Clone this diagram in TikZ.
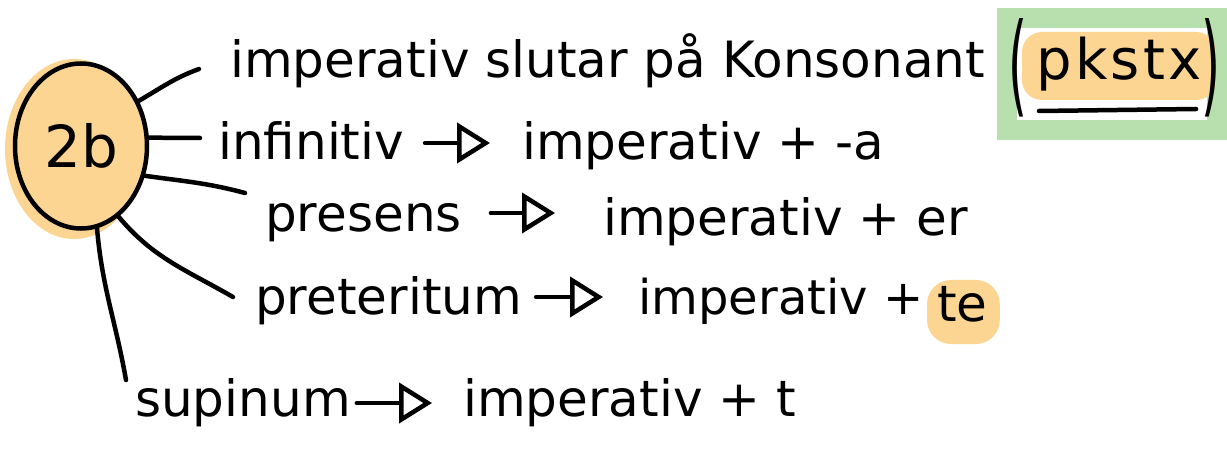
\documentclass[tikz,border=0pt]{standalone}
\usepackage{fontspec}
\setmainfont{DejaVu Sans}
\usetikzlibrary{arrows.meta,shapes.geometric,calc}
\definecolor{hlorange}{HTML}{FCD592}
\definecolor{hlgreen}{HTML}{B8E0AE}
\pgfdeclarelayer{bg}
\pgfsetlayers{bg,main}
\begin{document}
\begin{tikzpicture}[x=1pt,y=-1pt,
  conn/.style={line width=4.5pt, line cap=round},
  txt/.style={font=\fontsize{50}{56}\selectfont, anchor=base west, inner sep=0pt},
  paren/.style={font=\fontsize{54}{60}\selectfont, anchor=base west, inner sep=0pt},
  arr/.style={line width=4.5pt, line cap=round, -{Triangle[open,length=33pt,width=40pt,line width=4.5pt]}}]
\useasboundingbox (0,0) rectangle (1227,457);
% orange blob behind hub
\fill[hlorange] (74,149) ellipse [x radius=69, y radius=90];
\node[ellipse, draw, line width=4.5pt, fill=hlorange, minimum width=132pt, minimum height=165pt, inner sep=0pt,
      font=\fontsize{58}{62}\selectfont] (hub) at (81,146) {2b};
% line 1
\node[txt] (t1) at (230,78) {imperativ slutar på Konsonant};
% (pkstx)
\node[txt, font=\fontsize{56}{60}\selectfont\addfontfeature{LetterSpace=6}] (pk) at (1036,80) {pkstx};
\node[paren] (po) at (1008,103) {\scalebox{0.9}[2.05]{(}};
\node[paren] (pc) at (1201,103) {\scalebox{0.9}[2.05]{)}};
\draw[conn] ($(pk.base west)+(3,31)$) -- ($(pk.base east)+(-6,29)$);
\begin{pgfonlayer}{bg}
  \draw[hlgreen, line width=20pt] (1007,18) rectangle (1217,130);
  \fill[hlorange, rounded corners=20pt] ($(pk.base west)+(-14,-48)$) rectangle ($(pk.base east)+(14,20)$);
\end{pgfonlayer}
% line 2
\node[txt] (t2a) at (218,160) {infinitiv};
\node[txt] (t2b) at (522,160) {imperativ + -a};
% line 3
\node[txt] (t3a) at (265,232) {presens};
\node[txt] (t3b) at (603,236) {imperativ + er};
% line 4
\node[txt] (t4a) at (255,315) {preteritum};
\node[txt, font=\fontsize{48}{54}\selectfont] (t4b) at (638,315) {imperativ +};
\node[txt] (t4c) at (937,322) {te};
\begin{pgfonlayer}{bg}
  \fill[hlorange, rounded corners=24pt] ($(t4c.base west)+(-10,-42)$) rectangle ($(t4c.base east)+(12,22)$);
\end{pgfonlayer}
% line 5
\node[txt] (t5a) at (135,416) {supinum};
\node[txt] (t5b) at (463,416) {imperativ + t};
% arrows (node to node)
\draw[arr] ($(t2a.base east)+(21,-17)$) -- ($(t2b.base west)+(-32,-17)$);
\draw[arr] ($(t3a.base east)+(29,-19)$) -- ($(t3b.base west)+(-48,-23)$);
\draw[arr] ($(t4a.base east)+(14,-18)$) -- ($(t4b.base west)+(-35,-18)$);
\draw[arr] ($(t5a.base east)+(6,-13)$) -- ($(t5b.base west)+(-31,-13)$);
% connectors from hub
\draw[conn] (hub.38) to[out=30,in=200] ($(t1.base west)+(-31,-9)$);
\draw[conn] (hub.7) -- ($(t2a.base west)+(-18,-22)$);
\draw[conn] (hub.-25) to[out=-8,in=165] ($(t3a.base west)+(-20,-39)$);
\draw[conn] (hub.-62) to[out=-50,in=150] ($(t4a.base west)+(-22,-18)$);
\draw[conn] (hub.-79) to[out=-85,in=100] ($(t5a.base west)+(-9,-36)$);
\end{tikzpicture}
\end{document}
